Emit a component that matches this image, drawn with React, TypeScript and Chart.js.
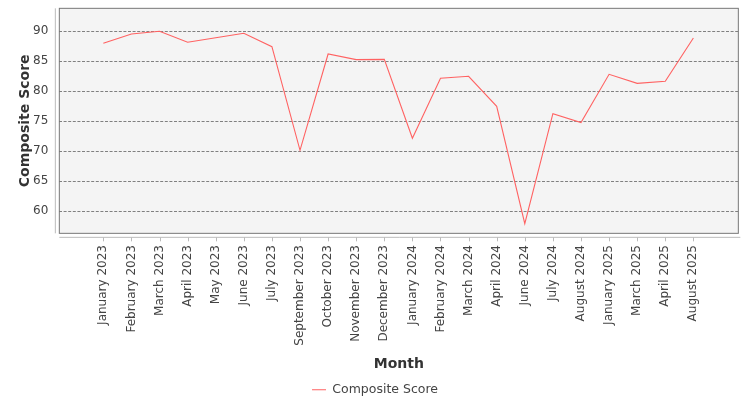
import { useEffect, useRef } from "react";
import { Chart, registerables } from "chart.js";

Chart.register(...registerables);

const months = [
  "January 2023", "February 2023", "March 2023", "April 2023", "May 2023",
  "June 2023", "July 2023", "September 2023", "October 2023", "November 2023",
  "December 2023", "January 2024", "February 2024", "March 2024", "April 2024",
  "June 2024", "July 2024", "August 2024", "January 2025", "March 2025",
  "April 2025", "August 2025",
];

const compositeScore = [
  88.0, 89.55, 90.0, 88.17, 88.94, 89.67, 87.44, 70.17, 86.22, 85.28, 85.33,
  72.17, 82.17, 82.5, 77.5, 57.94, 76.28, 74.78, 82.83, 81.33, 81.67, 88.89,
];

const yTicks = [60, 65, 70, 75, 80, 85, 90];

const PAD_BOTTOM = -6;

// draws the grey panel, its frame and the detached axis lines
const framePlugin = {
  id: "frame",
  beforeDraw(chart: any) {
    const { ctx, chartArea: a } = chart;
    ctx.save();
    ctx.fillStyle = "#f4f4f4";
    ctx.fillRect(a.left, a.top, a.right - a.left, a.bottom - a.top);
    ctx.restore();
  },
  afterDraw(chart: any) {
    const { ctx, chartArea: a } = chart;
    const x = chart.scales.x;
    ctx.save();
    ctx.lineWidth = 1;
    ctx.strokeStyle = "#777";
    ctx.strokeRect(a.left, a.top, a.right - a.left, a.bottom - a.top);

    ctx.strokeStyle = "#bbb";
    ctx.beginPath();
    ctx.moveTo(a.left - 4, a.top);
    ctx.lineTo(a.left - 4, a.bottom);
    ctx.moveTo(a.left, a.bottom + 4);
    ctx.lineTo(a.right + 2, a.bottom + 4);
    months.forEach((_, i) => {
      const px = Math.round(x.getPixelForValue(i)) + 0.5;
      ctx.moveTo(px, a.bottom + 4);
      ctx.lineTo(px, a.bottom + 8);
    });
    ctx.stroke();
    ctx.restore();
  },
};

export default function App() {
  const chartRef = useRef<HTMLCanvasElement>(null);
  const chartInstance = useRef<Chart | null>(null);

  useEffect(() => {
    document.body.style.margin = "0";
    if (!chartRef.current) return;
    if (chartInstance.current) chartInstance.current.destroy();

    const ctx = chartRef.current.getContext("2d");
    if (!ctx) return;

    chartInstance.current = new Chart(ctx, {
      type: "line",
      data: {
        datasets: [
          {
            label: "Composite Score",
            data: compositeScore.map((v, i) => ({ x: i, y: v })),
            borderColor: "#ff6262",
            backgroundColor: "#ff6262",
            borderWidth: 1.1,
            pointRadius: 0,
            tension: 0,
          },
        ],
      },
      options: {
        animation: false,
        responsive: false,
        layout: { padding: { top: 8.33, left: 0, right: 0, bottom: PAD_BOTTOM } },
        plugins: {
          legend: {
            position: "bottom",
            labels: {
              usePointStyle: true,
              pointStyle: "line",
              pointStyleWidth: 14,
              padding: 6,
              color: "#444",
              font: { family: "DejaVu Sans", size: 12.5 },
            },
          },
          tooltip: { enabled: false },
        },
        scales: {
          x: {
            type: "linear",
            min: -1.566,
            max: 22.6,
            afterBuildTicks: (scale: any) => {
              scale.ticks = months.map((_, i) => ({ value: i }));
            },
            afterFit: (scale: any) => {
              const legendH = scale.chart.legend ? scale.chart.legend.height : 24;
              scale.height = 400 - PAD_BOTTOM - 233.33 - legendH;
            },
            grid: { display: false, drawTicks: false },
            border: { display: false },
            ticks: {
              autoSkip: false,
              minRotation: 90,
              maxRotation: 90,
              padding: 11.7,
              color: "#444",
              font: { family: "DejaVu Sans", size: 12 },
              callback: (v: any) => months[v] ?? "",
            },
            title: {
              display: true,
              text: "Month",
              color: "#333",
              padding: { top: 0, bottom: 4.6 },
              font: { family: "DejaVu Sans", size: 14, weight: "bold" },
            },
          },
          y: {
            min: 56.33,
            max: 93.83,
            afterBuildTicks: (scale: any) => {
              scale.ticks = yTicks.map((v) => ({ value: v }));
            },
            afterFit: (scale: any) => {
              scale.width = 59.33;
              scale.paddingTop = 0;
              scale.paddingBottom = 0;
            },
            grid: {
              color: "#808080",
              lineWidth: 1,
              drawTicks: false,
            },
            border: { display: false, dash: [3, 1.6] },
            ticks: {
              padding: 11,
              color: "#444",
              font: { family: "DejaVu Sans", size: 12 },
            },
            title: {
              display: true,
              text: "Composite Score",
              color: "#333",
              padding: { top: 17, bottom: 0 },
              font: { family: "DejaVu Sans", size: 14, weight: "bold" },
            },
          },
          y2: {
            position: "right",
            min: 0,
            max: 1,
            afterFit: (scale: any) => {
              scale.width = 11.67;
              scale.paddingTop = 0;
              scale.paddingBottom = 0;
            },
            grid: { display: false },
            border: { display: false },
            ticks: { display: false },
          },
        },
      },
      plugins: [framePlugin],
    });

    return () => {
      if (chartInstance.current) {
        chartInstance.current.destroy();
        chartInstance.current = null;
      }
    };
  }, []);

  return (
    <div style={{ width: 750, height: 400 }}>
      <canvas ref={chartRef} width={750} height={400} />
    </div>
  );
}
